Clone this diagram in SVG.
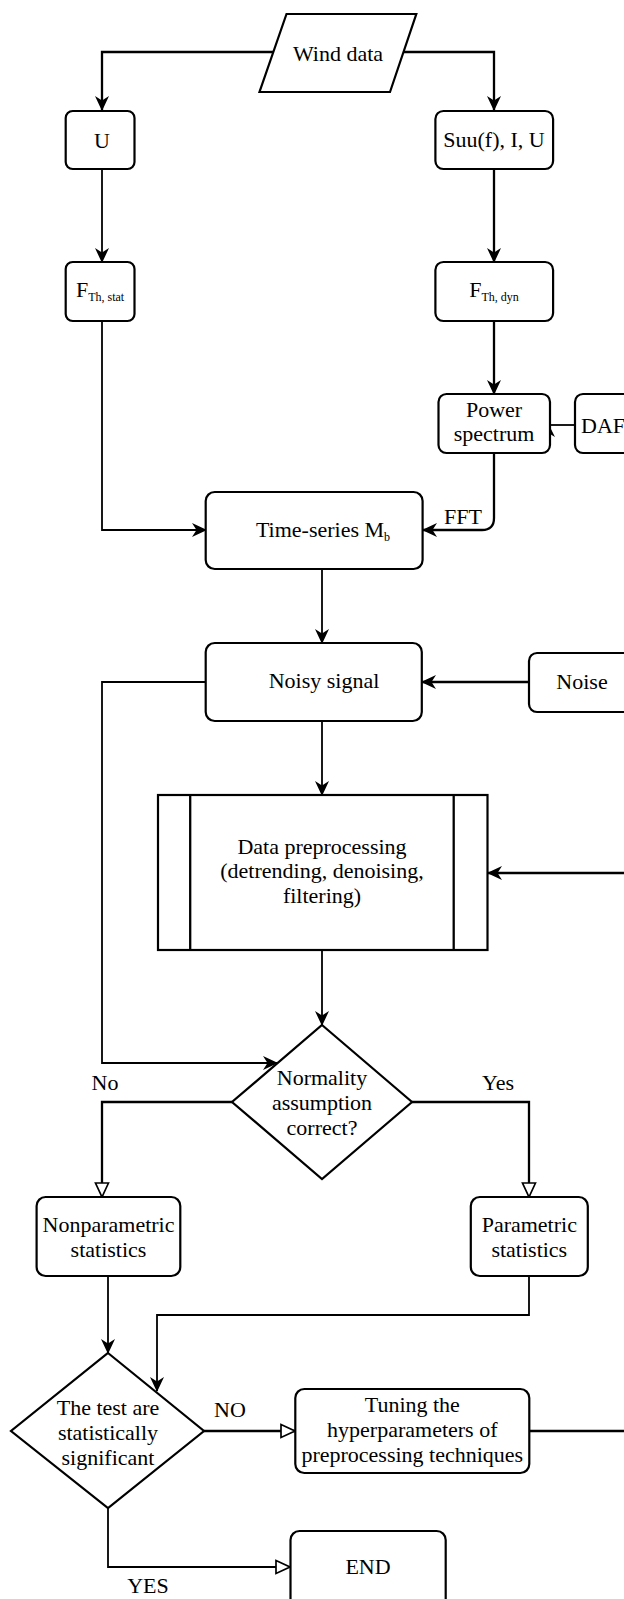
<svg xmlns="http://www.w3.org/2000/svg" width="624" height="1599" viewBox="0 0 624 1599">
<style>
.box{fill:#fff;stroke:#000;stroke-width:2.2}
.ln{fill:none;stroke:#000;stroke-width:2.3}
.thin{fill:none;stroke:#000;stroke-width:1.8}
.t{font-family:"Liberation Serif","Times New Roman",serif;font-size:22px;fill:#000;text-anchor:middle}
.sub{font-size:12px}
.arr{marker-end:url(#fa)}
.harr{marker-end:url(#ha)}
</style>
<defs>
<marker id="fa" viewBox="0 0 15 14" refX="14" refY="7" markerWidth="15" markerHeight="14" markerUnits="userSpaceOnUse" orient="auto">
<path d="M0,0 L15,7 L0,14 L4.5,7 Z" fill="#000"/>
</marker>
<marker id="ha" viewBox="0 0 16 16" refX="15" refY="8" markerWidth="16" markerHeight="16" markerUnits="userSpaceOnUse" orient="auto">
<path d="M1,1.5 L15,8 L1,14.5 Z" fill="#fff" stroke="#000" stroke-width="1.7"/>
</marker>
</defs>
<rect width="624" height="1599" fill="#fff"/>

<g id="connectors">
<path class="ln arr" d="M273,52 H102 V110"/>
<path class="ln arr" d="M403,52 H494 V110"/>
<path class="thin arr" d="M102,150 V262"/>
<path class="ln arr" d="M494,169 V262"/>
<path class="ln arr" d="M494,321 V394"/>
<path class="thin" d="M575,425 H551"/>
<path d="M550,427 L555,437 L550,434 L545,437 Z" fill="#000"/>
<path class="thin arr" d="M102,321 V530 H206"/>
<path class="ln arr" d="M494,453 V518 Q494,530 482,530 H423"/>
<path class="thin arr" d="M322,569 V643"/>
<path class="ln arr" d="M529,682 H422"/>
<path class="thin arr" d="M206,682 H102 V1063 H277"/>
<path class="thin arr" d="M322,721 V795"/>
<path class="ln arr" d="M630,873 H488"/>
<path class="thin arr" d="M322,950 V1025"/>
<path class="ln harr" d="M232,1102 H102 V1197"/>
<path class="ln harr" d="M412,1102 H529 V1197"/>
<path class="thin arr" d="M108,1276 V1353"/>
<path class="thin arr" d="M529,1276 V1315 H157 V1391"/>
<path class="ln harr" d="M204,1431 H295"/>
<path class="ln" d="M529,1431 H630"/>
<path class="thin harr" d="M108,1508 V1567 H290"/>
<text class="t" x="463" y="524">FFT</text>
<text class="t" x="105" y="1090">No</text>
<text class="t" x="498" y="1090">Yes</text>
<text class="t" x="230" y="1417">NO</text>
<text class="t" x="148" y="1593">YES</text>
</g>

<g id="wind-data">
<polygon class="box" points="286.5,14 416.3,14 390,92 259.5,92"/>
<text class="t" x="338" y="61">Wind data</text>
</g>
<g id="u">
<rect class="box" x="65.7" y="111" width="68.8" height="58" rx="7"/>
<text class="t" x="102" y="148">U</text>
</g>
<g id="suu">
<rect class="box" x="435.4" y="111" width="117.7" height="58" rx="8"/>
<text class="t" x="494" y="147">Suu(f), I, U</text>
</g>
<g id="fth-stat">
<rect class="box" x="65.7" y="262" width="68.8" height="59" rx="7"/>
<text class="t" x="100" y="297">F<tspan class="sub" dy="4">Th, stat</tspan></text>
</g>
<g id="fth-dyn">
<rect class="box" x="435.4" y="262" width="117.7" height="59" rx="8"/>
<text class="t" x="494" y="297">F<tspan class="sub" dy="4">Th, dyn</tspan></text>
</g>
<g id="power-spectrum">
<rect class="box" x="438.5" y="394" width="111.5" height="59" rx="8"/>
<text class="t" x="494" y="417">Power</text>
<text class="t" x="494" y="441">spectrum</text>
</g>
<g id="daf">
<rect class="box" x="575" y="394" width="70" height="59" rx="8"/>
<text class="t" x="581" y="433" style="text-anchor:start">DAF</text>
</g>
<g id="time-series">
<rect class="box" x="205.7" y="492" width="216.9" height="77" rx="9"/>
<text class="t" x="323" y="537">Time-series M<tspan class="sub" dy="4">b</tspan></text>
</g>
<g id="noisy-signal">
<rect class="box" x="205.7" y="643" width="216.1" height="78" rx="9"/>
<text class="t" x="324" y="688">Noisy signal</text>
</g>
<g id="noise">
<rect class="box" x="529" y="653" width="110" height="59" rx="8"/>
<text class="t" x="582" y="689">Noise</text>
</g>
<g id="data-preprocessing">
<rect class="box" x="158" y="795" width="329.5" height="155"/>
<line class="ln" x1="190.2" y1="795" x2="190.2" y2="950"/>
<line class="ln" x1="453.7" y1="795" x2="453.7" y2="950"/>
<text class="t" x="322" y="854">Data preprocessing</text>
<text class="t" x="322" y="878">(detrending, denoising,</text>
<text class="t" x="322" y="903">filtering)</text>
</g>
<g id="normality">
<polygon class="box" points="322,1025 412,1102 322,1179 232,1102"/>
<text class="t" x="322" y="1085">Normality</text>
<text class="t" x="322" y="1110">assumption</text>
<text class="t" x="322" y="1135">correct?</text>
</g>
<g id="nonparametric">
<rect class="box" x="36.6" y="1197" width="143.7" height="79" rx="9"/>
<text class="t" x="108.5" y="1232">Nonparametric</text>
<text class="t" x="108.5" y="1257">statistics</text>
</g>
<g id="parametric">
<rect class="box" x="470.8" y="1197" width="117" height="79" rx="9"/>
<text class="t" x="529.3" y="1232">Parametric</text>
<text class="t" x="529.3" y="1257">statistics</text>
</g>
<g id="significance">
<polygon class="box" points="108,1353 204,1431 108,1508 11,1431"/>
<text class="t" x="108" y="1415">The test are</text>
<text class="t" x="108" y="1440">statistically</text>
<text class="t" x="108" y="1465">significant</text>
</g>
<g id="tuning">
<rect class="box" x="295.3" y="1389" width="234" height="84" rx="9"/>
<text class="t" x="412.3" y="1412">Tuning the</text>
<text class="t" x="412.3" y="1437">hyperparameters of</text>
<text class="t" x="412.3" y="1462">preprocessing techniques</text>
</g>
<g id="end">
<rect class="box" x="290.5" y="1531" width="155.2" height="90" rx="9"/>
<text class="t" x="368" y="1574">END</text>
</g>
</svg>
